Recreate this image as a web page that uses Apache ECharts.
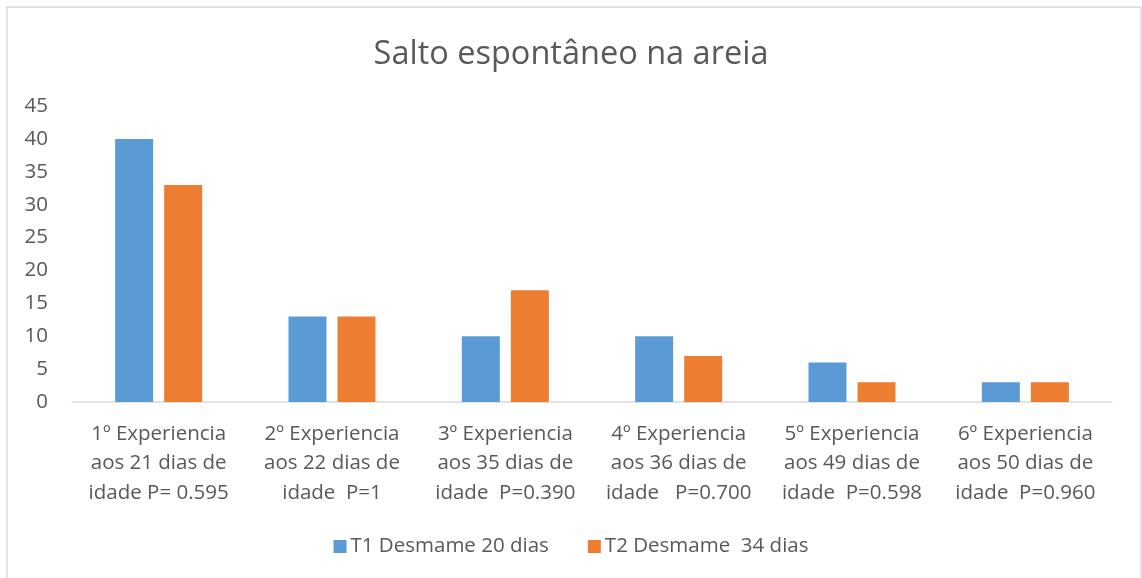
<!DOCTYPE html>
<html>
<head>
<meta charset="utf-8">
<script src="https://cdn.jsdelivr.net/npm/echarts@6/dist/echarts.min.js"></script>
<style>
  html, body { margin: 0; padding: 0; background: #fff; }
  #chart { width: 1142px; height: 578px; }
</style>
</head>
<body>
<div id="chart"></div>
<script>
const categories = [
  "1º Experiencia\naos 21 dias de\nidade P= 0.595",
  "2º Experiencia\naos 22 dias de\nidade  P=1",
  "3º Experiencia\naos 35 dias de\nidade  P=0.390",
  "4º Experiencia\naos 36 dias de\nidade   P=0.700",
  "5º Experiencia\naos 49 dias de\nidade  P=0.598",
  "6º Experiencia\naos 50 dias de\nidade  P=0.960"
];
const t1Values = [40, 13, 10, 10, 6, 3];
const t2Values = [33, 13, 17, 7, 3, 3];
const seriesNames = ["T1 Desmame 20 dias", "T2 Desmame  34 dias"];

const font = "'Open Sans', sans-serif";
const textColor = "#595959";

const chart = echarts.init(document.getElementById("chart"));
chart.setOption({
  animation: false,
  backgroundColor: "#fff",
  title: {
    text: "Salto espontâneo na areia",
    left: "center",
    top: 33,
    textStyle: { fontFamily: font, fontSize: 32.5, fontWeight: "normal", color: textColor }
  },
  legend: {
    bottom: 16,
    left: "center",
    itemWidth: 13,
    itemHeight: 13,
    itemGap: 39,
    icon: "rect",
    textStyle: { fontFamily: font, fontSize: 20.5, color: textColor, padding: [0, 0, 0, -1] }
  },
  grid: { left: 72, right: 30, top: 106, bottom: 176 },
  xAxis: {
    type: "category",
    data: categories,
    axisLine: { lineStyle: { color: "#d9d9d9", width: 1.5 } },
    axisTick: { show: false },
    axisLabel: {
      interval: 0,
      margin: 17,
      lineHeight: 29.5,
      fontFamily: font,
      fontSize: 20.5,
      color: textColor
    }
  },
  yAxis: {
    type: "value",
    min: 0,
    max: 45,
    interval: 5,
    splitLine: { show: false },
    axisLine: { show: false },
    axisTick: { show: false },
    axisLabel: { margin: 24, fontFamily: font, fontSize: 20.5, color: textColor }
  },
  series: [
    {
      name: seriesNames[0],
      type: "bar",
      data: t1Values,
      barWidth: 38,
      barGap: "29%",
      itemStyle: { color: "#5b9bd5" }
    },
    {
      name: seriesNames[1],
      type: "bar",
      data: t2Values,
      barWidth: 38,
      itemStyle: { color: "#ed7d31" }
    }
  ],
  graphic: [
    {
      type: "rect",
      shape: { x: 7, y: 7, width: 1134, height: 590 },
      style: { fill: "none", stroke: "#d9d9d9", lineWidth: 1.5 },
      silent: true
    }
  ]
});
</script>
</body>
</html>
